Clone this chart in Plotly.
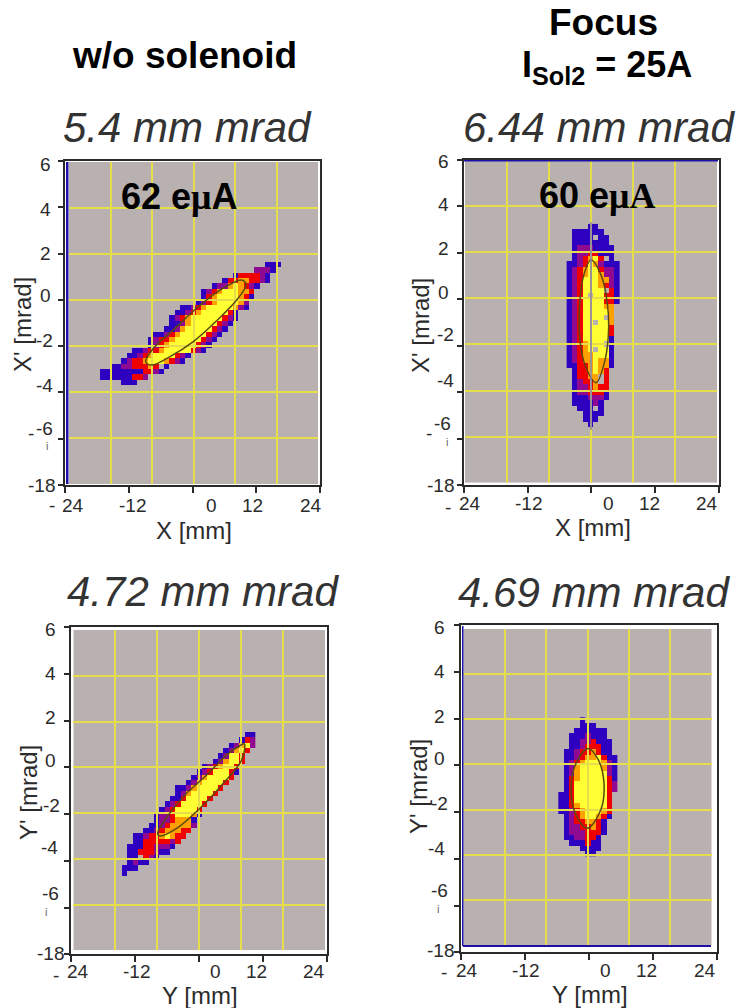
import plotly.graph_objects as go

# ---------- data ----------
TICK_X = [-24, -12, 0, 12, 24]
TICK_Y = [6, 4, 2, 0, -2, -4, -6, -8]
LABEL_X = ["-", "24", "-12", "0", "12", "24"]
LABEL_Y = ["6", "4", "2", "0", "-2", "-4", "-6", "-18"]

# beam-intensity maps: level per cell (0 none, 1 blue ... 5 yellow), one string per row, top to bottom
P1_X0, P1_DX, P1_Y0, P1_DY = -17.51, 1.0275, 1.536, 0.2319
P1_START = [31, 29, 25, 23, 21, 19, 19, 18, 15, 14, 13, 13, 12, 10, 9, 9, 6, 5, 4, 2, 0, 0, 4]
P1_ROWS = ["111", "2221", "1333321", "133443321", "122454321", "1234555443", "1345555431",
           "1234555542", "1123455555421", "112345555531", "1234555555321", "112455555321",
           "112455555321", "1123455555321", "1233455555321", "123455555321", "11233455555321",
           "112345555321", "123345554321", "11223334301", "111111113321", "111111332", "111"]
P1_ELL_X = [9.29, 10.12, 8.32, 4.47, -0.03, -4.53, -8.06, -9.22, -7.74, -3.89, 0.61, 5.11, 9.29]
P1_ELL_Y = [0.87, 0.65, 0.0, -0.90, -1.81, -2.46, -2.83, -2.68, -2.10, -1.30, -0.36, 0.43, 0.87]

P2_X0, P2_DX, P2_Y0, P2_DY = -4.13, 1.016, 3.11, 0.2314
P2_START = [4, 1, 1, 1, 1, 1, 1, 0, 0, 0, 0, 0, 0, 0, 0, 0, 0, 0, 0, 0, 0, 0, 0, 0, 0, 0, 0,
            1, 1, 1, 1, 1, 1, 1, 2, 3, 3, 4]
P2_ROWS = ["11", "111111", "1111011", "1111111", "12221111", "12233111", "12345301",
           "1123542111", "1234553221", "1234554221", "1235554421", "1235554321", "1235555031",
           "1235055331", "1235555331", "123555544", "123555554", "123555504", "123550554",
           "123555553", "123555553", "123555551", "123455501", "123450551", "123445551",
           "123445441", "113345441", "1334543", "1334403", "1233403", "1223433", "1223331",
           "1112221", "111121", "11101", "1111", "111", "1"]
P2_ELL_X = [3.37, 2.67, 0.95, -1.02, -2.10, -2.22, -1.46, 0.0, 2.03, 3.11, 3.37]
P2_ELL_Y = [-1.23, -2.68, -3.66, -2.97, -1.81, -0.51, 0.94, 1.66, 0.94, -0.22, -1.23]
P2_STREAK_X = [0, 0]
P2_STREAK_Y = [3.3, -5.7]

P3_X0, P3_DX, P3_Y0, P3_DY = -16.24, 1.017, 1.425, 0.233
P3_START = [25, 24, 22, 21, 20, 19, 17, 16, 15, 14, 12, 12, 11, 10, 9, 8, 8, 7, 6, 4, 4, 3, 3, 3, 3, 2, 2]
P3_ROWS = ["11", "132", "12452", "12453", "12553", "124553", "1234553", "12355531", "12455553",
           "12455553", "112455553", "12455553", "11355553", "12355553", "12355553", "122355541",
           "12234441", "112344442", "112344433", "1123345433", "113333323", "111332221",
           "11333211", "110321", "1211", "111", "1"]
P3_ELL_X = [7.66, 8.61, 8.11, 4.61, 0.16, -4.29, -7.47, -7.91, -5.88, -2.70, 1.43, 5.25, 7.66]
P3_ELL_Y = [0.93, 1.02, 0.32, -0.70, -1.79, -2.67, -3.00, -2.89, -2.09, -1.21, -0.34, 0.54, 0.93]

P4_X0, P4_DX, P4_Y0, P4_DY = -5.12, 1.03, 1.97, 0.2363
P4_START = [4, 4, 3, 2, 2, 2, 1, 1, 1, 1, 1, 1, 1, 1, 0, 0, 0, 0, 1, 1, 1, 1, 1, 2, 4, 5]
P4_ROWS = ["1", "111", "111111", "1112111", "11223111", "11233311", "112334311", "1123445311",
           "1234555421", "1245555421", "1245555521", "1345555531", "1355555532", "1355555532",
           "1135555553", "1135555553", "1134555553", "1123455543", "123455431", "12334431",
           "12233431", "12223331", "1122331", "111311", "1111", "11"]
P4_ELL_X = [3.19, 2.55, -0.03, -2.22, -3.19, -2.09, 0.16, 2.09, 3.19]
P4_ELL_Y = [-0.84, -2.02, -2.83, -2.24, -1.13, 0.12, 0.71, 0.20, -0.84]

LEVEL_COLORS = ["#2e00c0", "#8f0a90", "#f00000", "#ffa000", "#ffff33"]
BG = "#b9b0b0"
GRIDC = "#e6dd4a"
AXC = "#2a2a2a"
TXT = "#2b2b2b"
W, H = 743, 1008


def px(x):
    return x / W


def py(y):
    return 1 - y / H


PANELS = [
    dict(data=(P1_X0, P1_DX, P1_Y0, P1_DY, P1_START, P1_ROWS), ell=(P1_ELL_X, P1_ELL_Y),
         grid=(69, 318, 162, 484), frame=(65, 320, 161, 485),
         xt=[(52, 505), (73, 505), (132, 505), (211, 505), (252, 505), (311, 505)],
         yt=[(45, 165), (45, 209), (45, 253), (45, 295), (44, 340), (44, 385), (44, 428), (41, 485)],
         xlab=("X [mm]", 194, 530), ylab=("X' [mrad]", 23, 325),
         title=("5.4 mm mrad", 187, 127), dash=(31, 433), mark=(47, 446)),
    dict(data=(P2_X0, P2_DX, P2_Y0, P2_DY, P2_START, P2_ROWS), ell=(P2_ELL_X, P2_ELL_Y),
         grid=(465, 717, 160, 482.7), frame=(463.7, 719, 160, 485),
         xt=[(448, 507), (470, 503), (528, 503), (608, 503), (649, 503), (707, 503)],
         yt=[(443, 162), (443, 205), (443, 248), (443, 292), (445, 335), (445, 380), (442, 423), (441, 485)],
         xlab=("X [mm]", 593, 527), ylab=("X' [mrad]", 421, 325),
         title=("6.44 mm mrad", 599, 127), dash=(429, 433), mark=(447, 442)),
    dict(data=(P3_X0, P3_DX, P3_Y0, P3_DY, P3_START, P3_ROWS), ell=(P3_ELL_X, P3_ELL_Y),
         grid=(73.3, 325, 630, 950.3), frame=(71.3, 326.7, 627.3, 954.3),
         xt=[(55.7, 975), (77.7, 971), (136, 971), (215.7, 971), (256.7, 971), (314.3, 971)],
         yt=[(50.7, 629), (50.7, 673), (50.7, 717.7), (50.7, 760), (51, 805), (49, 847.7), (50, 893), (50, 953)],
         xlab=("Y [mm]", 200, 995), ylab=("Y' [mrad]", 28, 793),
         title=("4.72 mm mrad", 203, 591), dash=None, mark=(46, 912)),
    dict(data=(P4_X0, P4_DX, P4_Y0, P4_DY, P4_START, P4_ROWS), ell=(P4_ELL_X, P4_ELL_Y),
         grid=(463.3, 711.7, 629, 945), frame=(461.3, 716.7, 625, 952.3),
         xt=[(444.3, 972), (467.3, 970), (525.7, 970), (605.3, 970), (646, 970), (704.7, 970)],
         yt=[(439.3, 627), (439.3, 671.7), (439.3, 716), (439.3, 758), (439.3, 803), (436.7, 848), (439, 890), (440, 950)],
         xlab=("Y [mm]", 590, 994), ylab=("Y' [mrad]", 418, 787),
         title=("4.69 mm mrad", 594, 592), dash=None, mark=(438, 909)),
]

fig = go.Figure()
layout = dict(width=W, height=H, autosize=False, margin=dict(l=0, r=0, t=0, b=0), template="none",
              paper_bgcolor="white", plot_bgcolor="rgba(0,0,0,0)", showlegend=False,
              font=dict(family="Liberation Sans", color=TXT))
annotations, shapes = [], []


def text(t, x, y, size, color=TXT, bold=False, italic=False, angle=0):
    if bold:
        t = f"<b>{t}</b>"
    if italic:
        t = f"<i>{t}</i>"
    annotations.append(dict(text=t, x=px(x), y=py(y), xref="paper", yref="paper", showarrow=False,
                            xanchor="center", yanchor="middle", textangle=angle,
                            font=dict(family="Liberation Sans", size=size, color=color)))


def build_z(start, rows):
    ncols = max(s + len(r) for s, r in zip(start, rows))
    z = []
    for s, r in zip(start, rows):
        line = [None] * ncols
        for i, ch in enumerate(r):
            if ch != "0":
                line[s + i] = int(ch)
        z.append(line)
    return z


colorscale = []
for i, c in enumerate(LEVEL_COLORS):
    colorscale += [[i / 5, c], [(i + 1) / 5, c]]

for k, p in enumerate(PANELS):
    a = 3 * k + 1
    ids = [str(a), str(a + 1), str(a + 2)]
    x0, dx, y0, dy, start, rows = p["data"]
    z = build_z(start, rows)
    xs = [x0 + dx * i for i in range(len(z[0]))]
    ys = [y0 - dy * i for i in range(len(z))]
    gx0, gx1, gy0, gy1 = p["grid"]
    fx0, fx1, fy0, fy1 = p["frame"]
    sfx = lambda s: "" if s == "1" else s

    # heat layer
    fig.add_trace(go.Heatmap(x=xs, y=ys, z=z, colorscale=colorscale, zmin=0.5, zmax=5.5,
                             showscale=False, hoverongaps=False,
                             xaxis="x" + sfx(ids[0]), yaxis="y" + sfx(ids[0])))
    # grid layer above the heat map, with the ellipse
    fig.add_trace(go.Scatter(x=p["ell"][0], y=p["ell"][1], mode="lines",
                             line=dict(color="#5a4a10", width=1.5, shape="spline", smoothing=1.0),
                             xaxis="x" + ids[1], yaxis="y" + ids[1]))
    if k == 1:
        fig.add_trace(go.Scatter(x=P2_STREAK_X, y=P2_STREAK_Y, mode="lines",
                                 line=dict(color="#8a80a8", width=1.6),
                                 xaxis="x" + ids[1], yaxis="y" + ids[1]))
    # frame layer
    fig.add_trace(go.Scatter(x=[None], y=[None], mode="lines",
                             xaxis="x" + ids[2], yaxis="y" + ids[2]))

    common_x = dict(range=[-24, 24], showticklabels=False, zeroline=False, fixedrange=True)
    common_y = dict(range=[-8, 6], showticklabels=False, zeroline=False, fixedrange=True)
    gdx = [px(gx0), px(gx1)]
    gdy = [py(gy1), py(gy0)]
    # heat axes
    layout["xaxis" + sfx(ids[0])] = dict(common_x, domain=gdx, anchor="y" + sfx(ids[0]), showgrid=False, ticks="")
    layout["yaxis" + sfx(ids[0])] = dict(common_y, domain=gdy, anchor="x" + sfx(ids[0]), showgrid=False, ticks="")
    # grid axes
    layout["xaxis" + ids[1]] = dict(common_x, domain=gdx, anchor="y" + ids[1], showgrid=True, ticks="",
                                    tickvals=[-24, -16, -8, 0, 8, 16, 24], gridcolor=GRIDC, gridwidth=1.5)
    layout["yaxis" + ids[1]] = dict(common_y, domain=gdy, anchor="x" + ids[1], showgrid=True, ticks="",
                                    tickvals=[6, 4, 2, 0, -2, -4, -6, -8], gridcolor=GRIDC, gridwidth=1.5)
    # frame axes
    layout["xaxis" + ids[2]] = dict(common_x, domain=[px(fx0), px(fx1)], anchor="y" + ids[2], showgrid=False,
                                    tickvals=TICK_X, ticks="outside", ticklen=6, tickwidth=2, tickcolor=AXC,
                                    showline=True, linecolor=AXC, linewidth=2, mirror=True)
    layout["yaxis" + ids[2]] = dict(common_y, domain=[py(fy1), py(fy0)], anchor="x" + ids[2], showgrid=False,
                                    tickvals=TICK_Y, ticks="outside", ticklen=5, tickwidth=2, tickcolor=AXC,
                                    showline=True, linecolor=AXC, linewidth=2, mirror=True)
    # grey field
    shapes.append(dict(type="rect", xref="x" + sfx(ids[0]), yref="y" + sfx(ids[0]), x0=-24, x1=24, y0=-8, y1=6,
                       fillcolor=BG, line=dict(width=0), layer="below"))

    for lab, (x, y) in zip(LABEL_X, p["xt"]):
        text(lab, x, y, 19)
    for lab, (x, y) in zip(LABEL_Y, p["yt"]):
        text(lab, x, y, 19)
    if p["dash"]:
        text("-", p["dash"][0], p["dash"][1], 19)
    text("i", p["mark"][0], p["mark"][1], 11, color="#666666")
    text(p["xlab"][0], p["xlab"][1], p["xlab"][2], 24)
    text(p["ylab"][0], p["ylab"][1], p["ylab"][2], 24, angle=-90)
    text(p["title"][0], p["title"][1], p["title"][2], 42, color="#333333", italic=True)

# coloured edges of the scans
for x0, x1, y0, y1 in [(66, 68.5, 162, 484), (464, 718, 160, 161.5), (462, 463.5, 626, 946), (463, 711, 945, 947)]:
    shapes.append(dict(type="rect", xref="paper", yref="paper", x0=px(x0), x1=px(x1), y0=py(y1), y1=py(y0),
                       fillcolor="#1c10a8", line=dict(width=0), layer="above"))

text("w/o solenoid", 184, 55, 37, color="#000000", bold=True)
text("Focus", 603, 22, 37, color="#000000", bold=True)
text("I<sub>Sol2</sub> = 25A", 607, 67, 36, color="#000000", bold=True)
text('62 e<span style="font-family:Liberation Serif">μ</span>A', 179, 197, 36, color="#000000", bold=True)
text('60 e<span style="font-family:Liberation Serif">μA</span>', 597, 196, 36, color="#000000", bold=True)

layout["annotations"] = annotations
layout["shapes"] = shapes
fig.update_layout(**layout)
fig.write_html("out.html", config={"displayModeBar": False}, post_script="document.body.style.margin='0';")
